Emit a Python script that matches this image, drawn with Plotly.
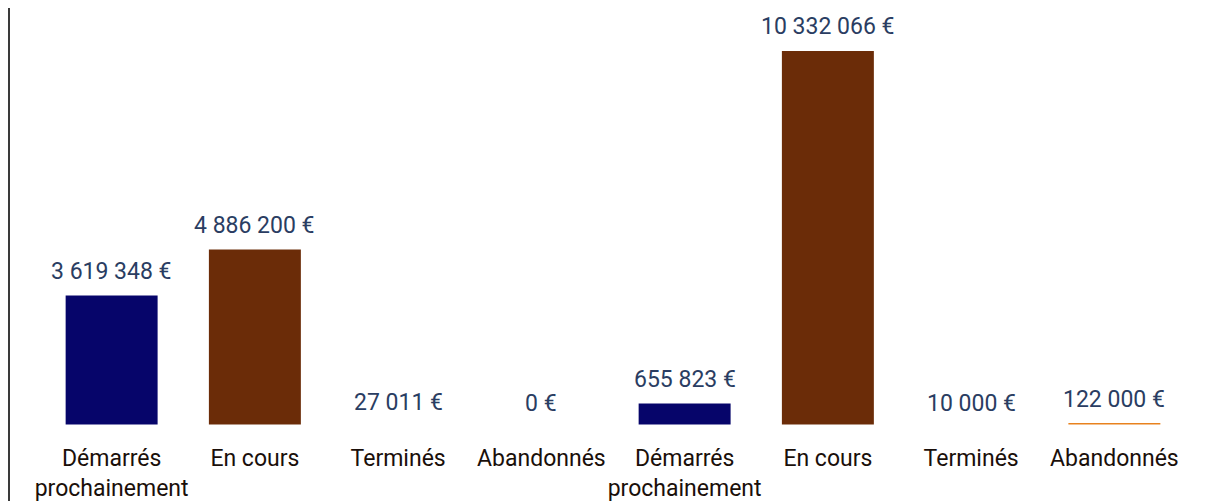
import plotly.graph_objects as go

categories = ["Démarrés<br>prochainement", "En cours", "Terminés", "Abandonnés",
              "Démarrés<br>prochainement", "En cours", "Terminés", "Abandonnés"]
values = [3619348, 4886200, 27011, 0, 655823, 10332066, 10000, 122000]
status_colors = {
    "Démarrés<br>prochainement": "#06056a",
    "En cours": "#6b2c08",
    "Terminés": "#2e7d4f",
    "Abandonnés": "#e8821e",
}

positions = list(range(len(categories)))
colors = [status_colors[c] for c in categories]

L, R, T, B = 32, 38, 0, 83
PW = 1216 - L - R

fig = go.Figure()
fig.add_trace(go.Bar(
    x=positions,
    y=values,
    marker=dict(color=colors, line=dict(width=3, color="white")),
    hoverinfo="skip",
))

for xi, v in zip(positions, values):
    fig.add_annotation(
        x=xi, y=v, xref="x", yref="y",
        text=f"{v:,.0f} €".replace(",", " "),
        showarrow=False, yanchor="bottom", yshift=7,
        font=dict(family="Roboto", size=23, color="#2a3d62"),
    )

fig.add_shape(type="line", xref="paper", yref="paper",
              x0=-(L - 1) / PW, x1=-(L - 1) / PW, y0=-0.5, y1=1.5,
              line=dict(color="#3a3a3a", width=2))

fig.update_layout(
    width=1216, height=501,
    margin=dict(l=L, r=R, t=T, b=B, autoexpand=False),
    paper_bgcolor="white", plot_bgcolor="white",
    bargap=0.337,
    showlegend=False,
    font=dict(family="Roboto"),
    xaxis=dict(
        tickmode="array", tickvals=positions, ticktext=categories,
        range=[-0.5, len(categories) - 0.5],
        showgrid=False, zeroline=False, showline=False, ticks="",
        tickangle=0, automargin=False,
        tickfont=dict(family="Roboto", size=23, color="#1a0f0a"),
        ticklabelstandoff=16,
    ),
    yaxis=dict(
        range=[0, 11.47e6], visible=False, showgrid=False, zeroline=False,
        automargin=False,
    ),
)

fig.write_html("out.html")
